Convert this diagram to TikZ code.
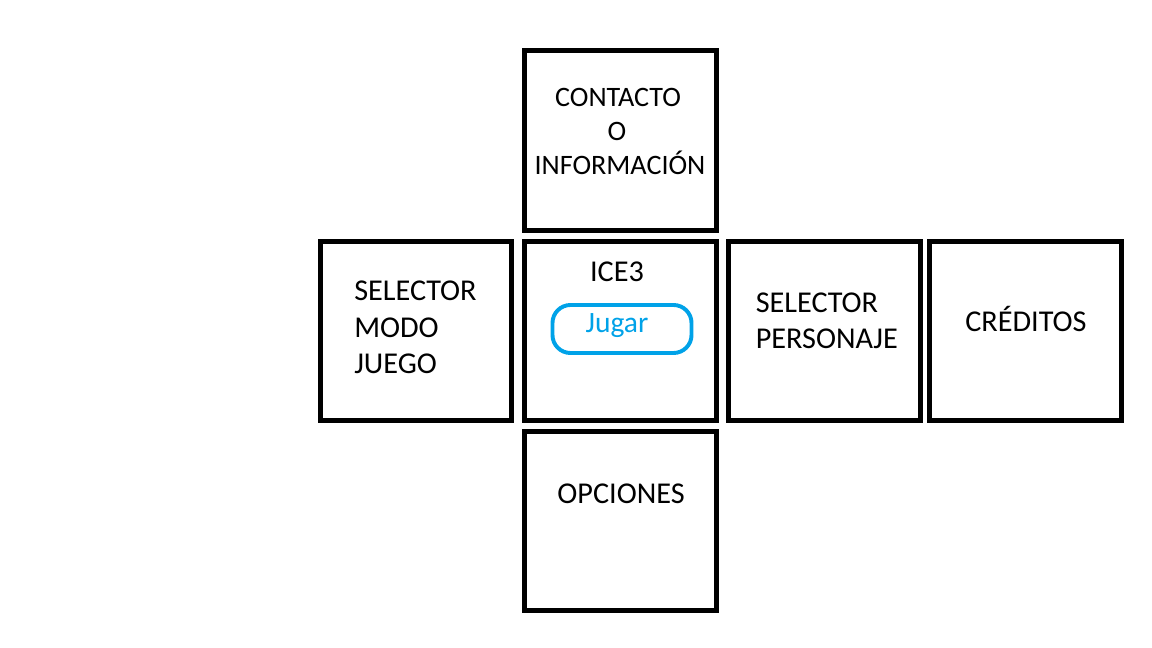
\documentclass[tikz,border=0pt]{standalone}
\usepackage{fontspec}
\setmainfont{Carlito}
\definecolor{jugarblue}{RGB}{0,162,232}

\tikzset{
  pantalla/.style={draw, line width=3.5pt, minimum width=4.78cm, minimum height=4.48cm, inner sep=0pt},
  etiqueta/.style={inner sep=0pt, font=\fontsize{21.5}{26}\selectfont},
  chica/.style={font=\fontsize{20}{24}\selectfont}
}

\begin{document}
\begin{tikzpicture}[x=0.025cm, y=-0.025cm]
  \useasboundingbox (0,0) rectangle (1152,648);
  % pantallas
  \node[pantalla] (contacto) at (620.5,140.5) {};
  \node[pantalla] (modo) at (415.75,331) {};
  \node[pantalla] (ice) at (620.5,331) {};
  \node[pantalla] (personaje) at (824.5,331) {};
  \node[pantalla] (creditos) at (1025.5,331) {};
  \node[pantalla] (opciones) at (620.5,521) {};
  % boton jugar
  \node[draw=jugarblue, line width=2.8pt, rounded corners=0.45cm,
        minimum width=3.475cm, minimum height=1.2cm] (jugar) at (622,329) {};
  % textos
  \node[etiqueta, chica, anchor=base] (contacto1) at (618,107) {CONTACTO};
  \node[etiqueta, chica, anchor=base] (contacto2) at (617,141) {O};
  \node[etiqueta, chica, anchor=base] (contacto3) at (620,175) {INFORMACIÓN};
  \node[etiqueta, anchor=base] (icetxt) at (617,281.5) {ICE3};
  \node[etiqueta, anchor=base, text=jugarblue, font=\fontsize{21}{26}\selectfont] (jugartxt) at (617,333) {Jugar};
  \node[etiqueta, anchor=base west] (modo1) at (354,301) {SELECTOR};
  \node[etiqueta, anchor=base west] (modo2) at (354,337.5) {MODO};
  \node[etiqueta, anchor=base west] (modo3) at (354,374) {JUEGO};
  \node[etiqueta, anchor=base west] (personaje1) at (755.5,312.5) {SELECTOR};
  \node[etiqueta, anchor=base west] (personaje2) at (755.5,349) {PERSONAJE};
  \node[etiqueta, anchor=base] (creditostxt) at (1026,331.5) {CRÉDITOS};
  \node[etiqueta, anchor=base] (opcionestxt) at (621,503) {OPCIONES};
\end{tikzpicture}
\end{document}
